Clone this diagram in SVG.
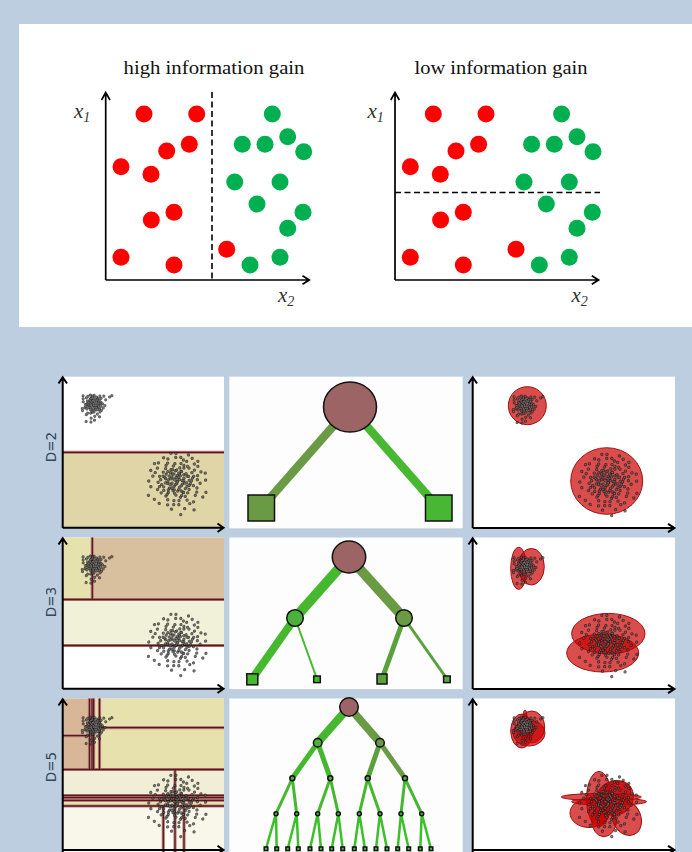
<svg xmlns="http://www.w3.org/2000/svg" width="692" height="852" viewBox="0 0 692 852">
<style>
.ttl{font-family:"Liberation Serif","DejaVu Serif",serif;font-size:18px;fill:#111}
.var{font-family:"Liberation Serif","DejaVu Serif",serif;font-style:italic;font-size:21px;fill:#333}
.sub{font-family:"Liberation Serif","DejaVu Serif",serif;font-size:14px;fill:#333}
.ax{stroke:#000;stroke-width:1.7;fill:none}
.ax2{stroke:#000;stroke-width:2;fill:none}
.red{fill:#ff0000}
.grn{fill:#00b050}
.dash{stroke:#000;stroke-width:1.6;stroke-dasharray:6 3.5;fill:none}
.dl{font-family:"DejaVu Sans","Liberation Sans",sans-serif;font-size:13.5px;fill:#34465a;text-anchor:middle}
.split{stroke:#5a1818;stroke-width:1.3;fill:none}
.splitw{stroke:#b88080;stroke-width:3.2;fill:none}
.dotO{fill:none;stroke:#1a1a1a;stroke-opacity:.7;stroke-width:3.3;stroke-linecap:round}
.dotI{fill:none;stroke:#8a8a8a;stroke-opacity:.55;stroke-width:1.6;stroke-linecap:round}
.gm{fill:#cc0000;fill-opacity:.7;stroke:#a01010;stroke-width:1}
.nd{stroke:#111;stroke-width:1.5}
.root{fill:#9c6464}
.cg{fill:#4cb03c}
.co{fill:#6a9a44}
.e{fill:none;stroke-linecap:butt}
</style>
<defs>
<path id="c1p" d="M0 0h0M2 -1h0M-3 1h0M4 3h0M-1 -4h0M5 -2h0M-5 -3h0M1 5h0M-2 2h0M3 -5h0M-6 1h0M6 1h0M0 -7h0M-4 5h0M2 3h0M-3 -6h0M7 -4h0M-7 -1h0M1 -2h0M4 -7h0M-1 7h0M5 5h0M-5 7h0M8 0h0M-8 3h0M3 8h0M-2 -9h0M9 -3h0M-9 -4h0M0 10h0M6 -8h0M-6 -8h0M10 4h0M-3 11h0M4 -10h0M11 -8h0M-10 8h0M7 9h0M-1 3h0M2 -3h0M-2 -1h0M3 1h0M1 1h0M-4 -2h0M-1 -6h0M6 4h0M-6 4h0M2 6h0M4 0h0M-3 3h0M0 -3h0M5 -5h0M-4 -5h0M7 2h0M-7 5h0M1 -8h0M-2 5h0M3 -2h0M9 6h0M-8 -6h0M12 -2h0M-11 1h0M5 12h0M-4 13h0M8 -11h0M-9 10h0M14 -12h0M-13 -5h0M16 -14h0M2 15h0M-12 -2h0M10 11h0M3 19h0M-2 20h0M6 16h0M11 1h0M7 -1h0M0 4h0M-5 0h0M1 -5h0M4 5h0M-2 -3h0"/>
<path id="c1q" d="M0.5 1.5h0M2.5 -2.5h0M-2.5 -1.5h0M3.5 4.5h0M-4.5 2.5h0M1.5 -4.5h0M-1.5 -3.5h0M5.5 0.5h0M-5.5 -0.5h0M0.5 6.5h0M-3.5 -7.5h0M6.5 -2.5h0M-6.5 2.5h0M2.5 -6.5h0M-0.5 -0.5h0M3.5 2.5h0M-2.5 4.5h0M4.5 -3.5h0M-4.5 -4.5h0M7.5 3.5h0M-7.5 6.5h0M1.5 8.5h0M-1.5 1.5h0M2.5 0.5h0"/>
<path id="c2p" d="M0 0h0M4 -2h0M-6 3h0M9 5h0M-3 -8h0M12 -4h0M-11 -6h0M2 10h0M-5 4h0M7 -11h0M-14 2h0M14 3h0M1 -14h0M-9 11h0M5 7h0M-7 -13h0M16 -9h0M-17 -1h0M3 -4h0M9 -15h0M-2 15h0M12 12h0M-12 14h0M19 0h0M-19 6h0M7 18h0M-4 -18h0M21 -6h0M-21 -8h0M0 21h0M15 -16h0M-15 -15h0M24 8h0M-6 24h0M10 -21h0M26 -14h0M-24 15h0M17 19h0M-2 6h0M5 -6h0M-4 -2h0M7 2h0M2 2h0M-9 -3h0M-2 -11h0M13 8h0M-13 8h0M4 12h0M9 0h0M-7 7h0M0 -6h0M11 -10h0M-10 -10h0M16 4h0M-16 10h0M3 -16h0M-4 10h0M6 -3h0M20 12h0M-18 -11h0M27 -3h0M-25 2h0M10 26h0M-9 28h0M18 -22h0M-20 20h0M31 -1h0M-29 10h0M13 33h0M-1 35h0M6 -26h0M22 -12h0M-13 -20h0M28 18h0M1 -27h0M24 22h0M-26 -4h0M-7 -24h0M30 6h0M17 9h0M-10 1h0M3 8h0M-5 -5h0M8 -7h0M11 5h0M-1 -1h0M2 -9h0M-8 2h0M6 14h0M-14 -3h0M14 -1h0M1 4h0M-3 13h0M10 15h0M-11 18h0M18 -4h0M8 22h0M2 18h0M-1 25h0M14 25h0M-5 20h0M22 4h0M25 -9h0M-22 -14h0M-17 -20h0M12 -18h0M5 -22h0M-3 -22h0M19 16h0M4 30h0M-12 23h0M15 -11h0M21 -18h0M-6 -16h0M23 0h0"/>
<path id="c2q" d="M1.5 2.5h0M-2.5 -3.5h0M5.5 -4.5h0M-7.5 0.5h0M8.5 2.5h0M-4.5 7.5h0M3.5 -9.5h0M-9.5 -4.5h0M10.5 8.5h0M-1.5 -6.5h0M6.5 5.5h0M-5.5 -9.5h0M12.5 -1.5h0M-12.5 4.5h0M0.5 11.5h0M7.5 -7.5h0M-8.5 8.5h0M4.5 0.5h0M-3.5 2.5h0M2.5 -1.5h0M-0.5 4.5h0M9.5 -3.5h0M-6.5 -1.5h0M14.5 6.5h0M-10.5 12.5h0M5.5 13.5h0M-14.5 -6.5h0M11.5 -12.5h0M-2.5 9.5h0M1.5 -2.5h0M17.5 1.5h0M-16.5 3.5h0M3.5 16.5h0M8.5 10.5h0M-7.5 -7.5h0M-0.5 -10.5h0"/>
<g id="c1"><use href="#c1p" class="dotO"/><use href="#c1q" class="dotO"/><use href="#c1p" class="dotI"/><use href="#c1q" class="dotI"/></g>
<g id="c2"><use href="#c2p" class="dotO"/><use href="#c2q" class="dotO"/><use href="#c2p" class="dotI"/><use href="#c2q" class="dotI"/></g>
<g id="clL">
<use href="#c1" transform="translate(93.5,404) rotate(17) scale(0.95)"/>
<use href="#c2" transform="translate(175,480) rotate(-11)"/>
</g>
<g id="pts">
<circle class="red" cx="144" cy="114" r="8.5"/><circle class="red" cx="196.7" cy="114" r="8.5"/>
<circle class="red" cx="189.3" cy="144.3" r="8.5"/><circle class="red" cx="166.7" cy="151" r="8.5"/>
<circle class="red" cx="121" cy="166.7" r="8.5"/><circle class="red" cx="151" cy="174.3" r="8.5"/>
<circle class="red" cx="174" cy="212.3" r="8.5"/><circle class="red" cx="151.3" cy="220" r="8.5"/>
<circle class="red" cx="121" cy="257.3" r="8.5"/><circle class="red" cx="174" cy="265" r="8.5"/>
<circle class="red" cx="226.7" cy="249.3" r="8.5"/>
<circle class="grn" cx="272.3" cy="114" r="8.5"/><circle class="grn" cx="287.7" cy="136.7" r="8.5"/>
<circle class="grn" cx="242.3" cy="144.3" r="8.5"/><circle class="grn" cx="265" cy="144.3" r="8.5"/>
<circle class="grn" cx="303.7" cy="151.7" r="8.5"/><circle class="grn" cx="234.7" cy="182" r="8.5"/>
<circle class="grn" cx="280" cy="182" r="8.5"/><circle class="grn" cx="257" cy="204" r="8.5"/>
<circle class="grn" cx="303" cy="212.3" r="8.5"/><circle class="grn" cx="287.7" cy="228.3" r="8.5"/>
<circle class="grn" cx="250" cy="265" r="8.5"/><circle class="grn" cx="280" cy="257.3" r="8.5"/>
</g>
<g id="axes">
<path class="ax" d="M105.7 280V93M101.5 100L105.7 92.5L110 100M105.7 280H309M302.5 275.7L309.3 280L302.5 284.3"/>
</g>
</defs>

<rect width="692" height="852" fill="#bdcee0"/>
<rect x="19" y="24" width="673" height="303" fill="#ffffff"/>

<g id="chart-high">
<text class="ttl" x="123.5" y="74" textLength="181" lengthAdjust="spacingAndGlyphs">high information gain</text>
<use href="#pts"/>
<line class="dash" x1="212" y1="92" x2="212" y2="280"/>
<use href="#axes"/>
<text class="var" x="74" y="118">x<tspan class="sub" dy="4">1</tspan></text>
<text class="var" x="278" y="302">x<tspan class="sub" dy="4">2</tspan></text>
</g>

<g id="chart-low">
<text class="ttl" x="414.5" y="74" textLength="173" lengthAdjust="spacingAndGlyphs">low information gain</text>
<use href="#pts" transform="translate(289.3,0)"/>
<line class="dash" x1="395" y1="192.5" x2="600" y2="192.5"/>
<use href="#axes" transform="translate(289.3,0)"/>
<text class="var" x="367.5" y="118">x<tspan class="sub" dy="4">1</tspan></text>
<text class="var" x="571.5" y="302">x<tspan class="sub" dy="4">2</tspan></text>
</g>

<!-- Row 1: D=2 -->
<g id="row-d2">
<text class="dl" transform="translate(55.5,447) rotate(-90)">D=2</text>
<g id="part-d2">
<rect x="62.7" y="376.7" width="161.3" height="151" fill="#ffffff"/>
<rect x="62.7" y="452.3" width="161.3" height="75.4" fill="#e0d5a7"/>
<line class="splitw" x1="62.7" y1="452.3" x2="224" y2="452.3"/>
<line class="split" x1="62.7" y1="452.3" x2="224" y2="452.3"/>
<use href="#clL"/>
<path class="ax2" d="M62.7 528V378M58.5 383.5L62.7 377.3L67 383.5M62.7 527.7H223M217.5 523.5L223.5 527.7L217.5 532"/>
</g>
<g id="tree-d2">
<rect x="229.3" y="376.7" width="233.4" height="151.6" fill="#fdfdfd"/>
<g id="tree-d2-edges">
<line class="e" x1="350" y1="407" x2="261.3" y2="508" stroke="#6a9a44" stroke-width="8.5"/>
<line class="e" x1="350" y1="407" x2="438.7" y2="508" stroke="#48b832" stroke-width="8.5"/>
</g>
<ellipse id="d2-root" class="nd root" cx="350" cy="407" rx="26.5" ry="25"/>
<rect id="d2-leaf1" class="nd" x="248" y="495" width="26.5" height="26" fill="#6a9a44"/>
<rect id="d2-leaf2" class="nd" x="425.5" y="495" width="26.5" height="26" fill="#48b834"/>
</g>
<g id="gmm-d2">
<rect x="472.5" y="376.7" width="202.5" height="151.6" fill="#ffffff"/>
<circle class="gm" cx="527.3" cy="405.7" r="19"/>
<ellipse class="gm" cx="606.7" cy="481" rx="36" ry="33.3"/>
<use href="#clL" transform="translate(431,1)"/>
<path class="ax2" d="M472.7 528V378M468.5 383.5L472.7 377.3L477 383.5M472.7 528H674M668 523.8L674.5 528L668 532.2"/>
</g>
</g>

<!-- Row 2: D=3 -->
<g id="row-d3">
<text class="dl" transform="translate(55.5,602) rotate(-90)">D=3</text>
<g id="part-d3">
<rect x="62.7" y="537.5" width="161.3" height="151" fill="#ffffff"/>
<rect x="62.7" y="537.5" width="29.6" height="62" fill="#e6e2ae"/>
<rect x="92.3" y="537.5" width="131.7" height="62" fill="#d8bf9e"/>
<rect x="62.7" y="599.5" width="161.3" height="46" fill="#f1f0d9"/>
<path class="splitw" d="M92.3 537.5V599.5M62.7 599.5H224M62.7 645.5H224"/>
<path class="split" d="M92.3 537.5V599.5M62.7 599.5H224M62.7 645.5H224"/>
<use href="#clL" transform="translate(0,161)"/>
<path class="ax2" d="M62.7 689V539M58.5 544.5L62.7 538.3L67 544.5M62.7 688.7H223M217.5 684.5L223.5 688.7L217.5 693"/>
</g>
<g id="tree-d3">
<rect x="229.3" y="537.5" width="233.4" height="151.6" fill="#fdfdfd"/>
<g id="tree-d3-edges">
<line class="e" x1="349" y1="557" x2="295" y2="618" stroke="#46b82e" stroke-width="10"/>
<line class="e" x1="349" y1="557" x2="404" y2="618" stroke="#6a9a44" stroke-width="10"/>
<line class="e" x1="295" y1="618" x2="252" y2="679" stroke="#46b82e" stroke-width="8"/>
<line class="e" x1="295" y1="618" x2="317" y2="679" stroke="#46b82e" stroke-width="2"/>
<line class="e" x1="404" y1="618" x2="382" y2="679" stroke="#5aa03c" stroke-width="5"/>
<line class="e" x1="404" y1="618" x2="447" y2="679" stroke="#5aa03c" stroke-width="3"/>
</g>
<ellipse id="d3-root" class="nd root" cx="349" cy="557" rx="16.7" ry="16"/>
<circle id="d3-n1" class="nd cg" cx="295" cy="618" r="8.3"/>
<circle id="d3-n2" class="nd co" cx="404" cy="618" r="8.3"/>
<rect id="d3-l1" class="nd" x="246.8" y="673.8" width="11" height="11" fill="#46b82e"/>
<rect id="d3-l2" class="nd" x="313.7" y="676" width="6.6" height="6.6" fill="#46b82e"/>
<rect id="d3-l3" class="nd" x="377" y="674" width="10" height="10" fill="#5aa03c"/>
<rect id="d3-l4" class="nd" x="443.6" y="676" width="6.6" height="6.6" fill="#5aa83a"/>
</g>
<g id="gmm-d3">
<rect x="472.5" y="537.5" width="202.5" height="151.6" fill="#ffffff"/>
<ellipse class="gm" cx="518.7" cy="568.3" rx="8" ry="21"/>
<ellipse class="gm" cx="531.3" cy="566.7" rx="13" ry="18.3"/>
<ellipse class="gm" cx="608.3" cy="633.7" rx="36.7" ry="20.3"/>
<ellipse class="gm" cx="602.7" cy="653" rx="36" ry="19"/>
<use href="#clL" transform="translate(431,162)"/>
<path class="ax2" d="M472.7 689V539M468.5 544.5L472.7 538.3L477 544.5M472.7 689H674M668 684.8L674.5 689L668 693.2"/>
</g>
</g>

<!-- Row 3: D=5 -->
<g id="row-d5">
<text class="dl" transform="translate(55.5,767) rotate(-90)">D=5</text>
<g id="part-d5">
<rect x="62.7" y="698.5" width="161.3" height="153.5" fill="#f8f7ea"/>
<rect x="62.7" y="698.5" width="27" height="71" fill="#d8b698"/>
<rect x="89.7" y="698.5" width="134.3" height="71" fill="#e6e1ad"/>
<rect x="62.7" y="769.5" width="161.3" height="26" fill="#f0eed6"/>
<rect x="62.7" y="795.5" width="161.3" height="10.5" fill="#e6e1b0"/>
<rect x="163.3" y="806" width="11.7" height="46" fill="#fdfdf8"/>
<path class="splitw" d="M89.5 698.5V769.5M92 698.5V769.5M93.6 698.5V769.5M99.5 698.5V769.5M99.5 727.7H224M62.7 735.7H89.5M62.7 769.5H224M175 769.5V852M62.7 795.5H224M62.7 797.7H224M62.7 800.3H224M62.7 806H224M163.3 806V852M184 806V852"/>
<path class="split" d="M89.5 698.5V769.5M92 698.5V769.5M93.6 698.5V769.5M99.5 698.5V769.5M99.5 727.7H224M62.7 735.7H89.5M62.7 769.5H224M175 769.5V852M62.7 795.5H224M62.7 797.7H224M62.7 800.3H224M62.7 806H224M163.3 806V852M184 806V852"/>
<use href="#clL" transform="translate(0,322)"/>
<path class="ax2" d="M62.7 852V700M58.5 705.5L62.7 699.3L67 705.5M62.7 850H223M217.5 845.8L223.5 850L217.5 854.2"/>
</g>
<g id="tree-d5">
<rect x="229.3" y="698.5" width="233.4" height="153.5" fill="#fdfdfd"/>
<g id="tree-d5-edges">
<line class="e" x1="349" y1="707" x2="317.7" y2="742.7" stroke="#46b82e" stroke-width="8"/>
<line class="e" x1="349" y1="707" x2="380" y2="742.7" stroke="#6a9a44" stroke-width="8"/>
<path class="e" stroke="#46b82e" stroke-width="5" d="M317.7 742.7L292.3 778.3M317.7 742.7L330.3 778.3"/>
<path class="e" stroke="#5aa03c" stroke-width="5" d="M380 742.7L367.7 778.3"/>
<path class="e" stroke="#6a9a44" stroke-width="5" d="M380 742.7L405 778.3"/>
<path class="e" stroke="#46b82e" stroke-width="3" d="M292.3 778.3L276 813.7M292.3 778.3L296.7 813.7M330.3 778.3L317.7 813.7M330.3 778.3L338.3 813.7M367.7 778.3L359.3 813.7M367.7 778.3L380 813.7M405 778.3L401 813.7M405 778.3L421.7 813.7"/>
<path class="e" stroke="#3cc02a" stroke-width="2.5" d="M276 813.7L266 848.7M276 813.7L276.7 848.7M296.7 813.7L287.7 848.7M296.7 813.7L298.3 848.7M317.7 813.7L310 848.7M317.7 813.7L321 848.7M338.3 813.7L331.7 848.7M338.3 813.7L342.7 848.7M359.3 813.7L354.3 848.7M359.3 813.7L365 848.7M380 813.7L376 848.7M380 813.7L387 848.7M401 813.7L397.7 848.7M401 813.7L408.7 848.7M421.7 813.7L420.3 848.7M421.7 813.7L431 848.7"/>
</g>
<circle id="d5-root" class="nd root" cx="349" cy="707" r="9.3"/>
<circle id="d5-a" class="nd cg" cx="317.7" cy="742.7" r="4.3"/>
<circle id="d5-b" class="nd co" cx="380" cy="742.7" r="4.3"/>
<g class="nd cg">
<circle cx="292.3" cy="778.3" r="2.5"/><circle cx="330.3" cy="778.3" r="2.5"/><circle cx="367.7" cy="778.3" r="2.5"/><circle cx="405" cy="778.3" r="2.5"/>
<circle cx="276" cy="813.7" r="2"/><circle cx="296.7" cy="813.7" r="2"/><circle cx="317.7" cy="813.7" r="2"/><circle cx="338.3" cy="813.7" r="2"/>
<circle cx="359.3" cy="813.7" r="2"/><circle cx="380" cy="813.7" r="2"/><circle cx="401" cy="813.7" r="2"/><circle cx="421.7" cy="813.7" r="2"/>
</g>
<g class="nd" fill="#3cc02a">
<rect x="264.2" y="847" width="3.6" height="3.6"/><rect x="274.9" y="847" width="3.6" height="3.6"/><rect x="285.9" y="847" width="3.6" height="3.6"/><rect x="296.5" y="847" width="3.6" height="3.6"/>
<rect x="308.2" y="847" width="3.6" height="3.6"/><rect x="319.2" y="847" width="3.6" height="3.6"/><rect x="329.9" y="847" width="3.6" height="3.6"/><rect x="340.9" y="847" width="3.6" height="3.6"/>
<rect x="352.5" y="847" width="3.6" height="3.6"/><rect x="363.2" y="847" width="3.6" height="3.6"/><rect x="374.2" y="847" width="3.6" height="3.6"/><rect x="385.2" y="847" width="3.6" height="3.6"/>
<rect x="395.9" y="847" width="3.6" height="3.6"/><rect x="406.9" y="847" width="3.6" height="3.6"/><rect x="418.5" y="847" width="3.6" height="3.6"/><rect x="429.2" y="847" width="3.6" height="3.6"/>
</g>
</g>
<g id="gmm-d5">
<rect x="472.5" y="698.5" width="202.5" height="153.5" fill="#ffffff"/>
<ellipse class="gm" cx="521.7" cy="731" rx="11" ry="17"/>
<ellipse class="gm" cx="531.7" cy="727" rx="13" ry="16"/>
<ellipse class="gm" cx="529" cy="733" rx="16" ry="13"/>
<ellipse class="gm" cx="525" cy="718" rx="2" ry="8"/>
<ellipse class="gm" cx="599" cy="799" rx="12.5" ry="27.5"/>
<ellipse class="gm" cx="615" cy="798" rx="19" ry="17" transform="rotate(-30 615 798)"/>
<ellipse class="gm" cx="589" cy="813" rx="19" ry="14.5"/>
<ellipse class="gm" cx="604" cy="820" rx="12.5" ry="16.7"/>
<ellipse class="gm" cx="626.7" cy="818" rx="14" ry="18" transform="rotate(-25 626.7 818)"/>
<ellipse class="gm" cx="618" cy="790" rx="13" ry="9"/>
<ellipse class="gm" cx="601.3" cy="797" rx="40" ry="3.5"/>
<ellipse class="gm" cx="609" cy="801.7" rx="37.5" ry="3.5"/>
<use href="#clL" transform="translate(431,322)"/>
<path class="ax2" d="M472.7 852V700M468.5 705.5L472.7 699.3L477 705.5M472.7 850H674M668 845.8L674.5 850L668 854.2"/>
</g>
</g>
</svg>
